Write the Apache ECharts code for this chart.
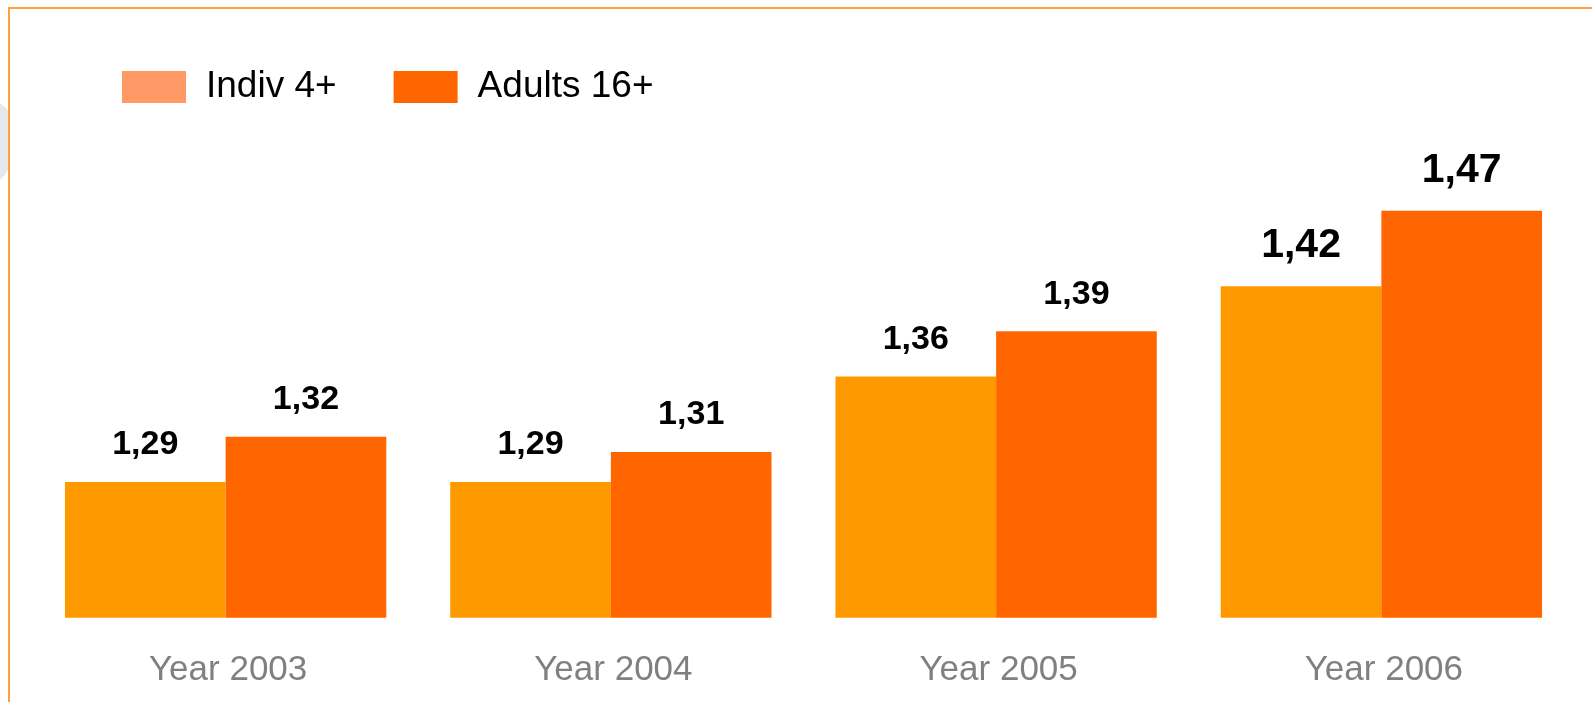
<!DOCTYPE html>
<html>
<head>
<meta charset="utf-8">
<script src="https://cdn.jsdelivr.net/npm/echarts@6/dist/echarts.min.js"></script>
<style>
  html, body { margin: 0; padding: 0; background: #fff; }
  #chart { width: 1592px; height: 702px; }
</style>
</head>
<body>
<div id="chart"></div>
<script>
var categories = ['Year 2003', 'Year 2004', 'Year 2005', 'Year 2006'];
var indivValues = [1.29, 1.29, 1.36, 1.42];
var adultsValues = [1.32, 1.31, 1.39, 1.47];
var seriesNames = ['Indiv 4+', 'Adults 16+'];

// the last year gets larger value labels in the original
var bigLabelIndex = 3;

function toComma(v) {
  return v.toFixed(2).replace('.', ',');
}

function barData(values) {
  return values.map(function (v, i) {
    return {
      value: v,
      label: { fontSize: i === bigLabelIndex ? 41 : 34 }
    };
  });
}

var chart = echarts.init(document.getElementById('chart'));

var option = {
  animation: false,
  backgroundColor: '#fff',
  textStyle: { fontFamily: 'Liberation Sans' },
  legend: {
    left: 117,
    top: 63.5,
    itemWidth: 64,
    itemHeight: 32,
    itemGap: 57,
    icon: 'rect',
    textStyle: {
      fontFamily: 'Liberation Sans',
      fontSize: 37,
      color: '#000',
      padding: [0, 0, 0, 15]
    },
    data: [
      { name: seriesNames[0], itemStyle: { color: '#FF9966' } },
      { name: seriesNames[1], itemStyle: { color: '#FF6600' } }
    ]
  },
  grid: {
    left: 33,
    right: 18,
    top: 165.6,
    bottom: 84.3,
    containLabel: false
  },
  xAxis: {
    type: 'category',
    data: categories,
    axisLine: { show: false },
    axisTick: { show: false },
    axisLabel: {
      color: '#808080',
      fontSize: 35,
      margin: 35,
      padding: [0, 0, 0, 5]
    }
  },
  yAxis: {
    type: 'value',
    min: 1.2,
    max: 1.5,
    show: false,
    splitLine: { show: false }
  },
  graphic: [
    {
      type: 'polygon',
      shape: { points: [[0, 103], [6, 108], [8, 111], [8, 170], [4, 176], [0, 180]] },
      style: { fill: '#E4E8EA' }
    },
    {
      type: 'line',
      shape: { x1: 9, y1: 8, x2: 1592, y2: 8 },
      style: { stroke: '#FFA040', lineWidth: 2 }
    },
    {
      type: 'line',
      shape: { x1: 9, y1: 7, x2: 9, y2: 702 },
      style: { stroke: '#FFA040', lineWidth: 2 }
    }
  ],
  series: [
    {
      name: seriesNames[0],
      type: 'bar',
      data: barData(indivValues),
      barGap: '0%',
      barCategoryGap: '16.6%',
      itemStyle: { color: '#FF9900' },
      label: {
        show: true,
        position: 'top',
        distance: 20,
        color: '#000',
        fontWeight: 'bold',
        formatter: function (p) { return toComma(p.value); }
      }
    },
    {
      name: seriesNames[1],
      type: 'bar',
      data: barData(adultsValues),
      barGap: '0%',
      barCategoryGap: '16.6%',
      itemStyle: { color: '#FF6600' },
      label: {
        show: true,
        position: 'top',
        distance: 20,
        color: '#000',
        fontWeight: 'bold',
        formatter: function (p) { return toComma(p.value); }
      }
    }
  ]
};

chart.setOption(option);
</script>
</body>
</html>
